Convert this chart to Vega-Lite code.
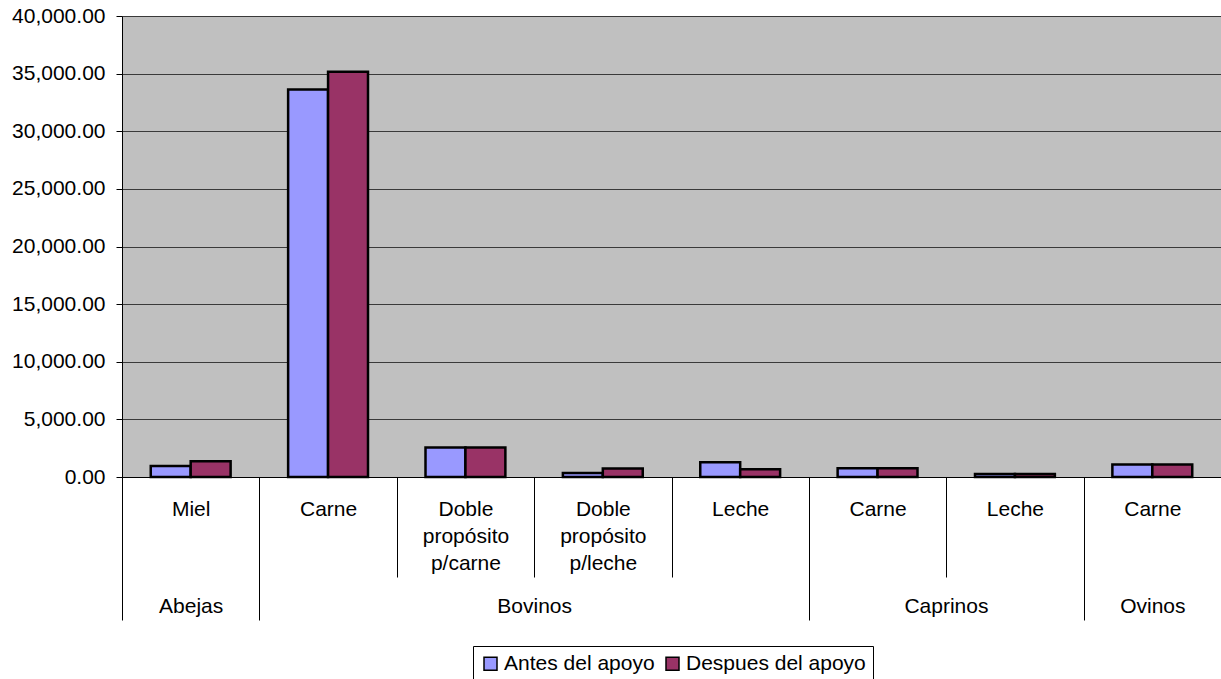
{
  "$schema": "https://vega.github.io/schema/vega-lite/v6.json",
  "width": 1099,
  "height": 461,
  "autosize": {"type": "none"},
  "padding": {"left": 122, "top": 16, "right": 0, "bottom": 202},
  "background": "white",
  "config": {
    "view": {"fill": "#C0C0C0", "stroke": null},
    "font": "Liberation Sans"
  },
  "data": {
    "values": [
      {"clave": "Abejas|Miel", "serie": "Antes del apoyo", "valor": 960},
      {"clave": "Abejas|Miel", "serie": "Despues del apoyo", "valor": 1370},
      {"clave": "Bovinos|Carne", "serie": "Antes del apoyo", "valor": 33630},
      {"clave": "Bovinos|Carne", "serie": "Despues del apoyo", "valor": 35160},
      {"clave": "Bovinos|Doble propósito p/carne", "serie": "Antes del apoyo", "valor": 2550},
      {"clave": "Bovinos|Doble propósito p/carne", "serie": "Despues del apoyo", "valor": 2550},
      {"clave": "Bovinos|Doble propósito p/leche", "serie": "Antes del apoyo", "valor": 350},
      {"clave": "Bovinos|Doble propósito p/leche", "serie": "Despues del apoyo", "valor": 730},
      {"clave": "Bovinos|Leche", "serie": "Antes del apoyo", "valor": 1280},
      {"clave": "Bovinos|Leche", "serie": "Despues del apoyo", "valor": 670},
      {"clave": "Caprinos|Carne", "serie": "Antes del apoyo", "valor": 750},
      {"clave": "Caprinos|Carne", "serie": "Despues del apoyo", "valor": 750},
      {"clave": "Caprinos|Leche", "serie": "Antes del apoyo", "valor": 270},
      {"clave": "Caprinos|Leche", "serie": "Despues del apoyo", "valor": 270},
      {"clave": "Ovinos|Carne", "serie": "Antes del apoyo", "valor": 1080},
      {"clave": "Ovinos|Carne", "serie": "Despues del apoyo", "valor": 1080}
    ]
  },
  "encoding": {
    "y": {
      "field": "valor",
      "type": "quantitative",
      "scale": {"domain": [0, 40000], "nice": false},
      "axis": {
        "title": null,
        "values": [0, 5000, 10000, 15000, 20000, 25000, 30000, 35000, 40000],
        "format": ",.2f",
        "labelFont": "Liberation Sans",
        "labelFontSize": 21,
        "labelColor": "black",
        "labelPadding": 11,
        "tickSize": 6,
        "tickColor": "black",
        "domainColor": "black",
        "domainWidth": 1,
        "grid": true,
        "gridColor": "#3a3a3a",
        "gridWidth": 1
      }
    },
    "xOffset": {
      "field": "serie",
      "type": "nominal",
      "scale": {
        "domain": ["Antes del apoyo", "Despues del apoyo"],
        "paddingInner": 0,
        "paddingOuter": 0.72
      }
    },
    "color": {
      "field": "serie",
      "type": "nominal",
      "scale": {
        "domain": ["Antes del apoyo", "Despues del apoyo"],
        "range": ["#9999FF", "#993366"]
      },
      "legend": {
        "title": null,
        "orient": "none",
        "legendX": 351,
        "legendY": 630,
        "direction": "horizontal",
        "strokeColor": "black",
        "fillColor": "white",
        "padding": 7,
        "symbolType": "square",
        "symbolSize": 169,
        "symbolStrokeColor": "black",
        "symbolStrokeWidth": 1.5,
        "symbolOpacity": 1,
        "labelFont": "Liberation Sans",
        "labelFontSize": 21,
        "labelColor": "black",
        "labelLimit": 0,
        "labelOffset": 3,
        "columnPadding": 7
      }
    }
  },
  "layer": [
    {
      "transform": [{"filter": "datum.serie === 'Antes del apoyo'"}],
      "mark": {"type": "bar", "stroke": "black", "strokeWidth": 2.5},
      "encoding": {
        "x": {
          "field": "clave",
          "type": "nominal",
          "sort": null,
          "scale": {"paddingInner": 0, "paddingOuter": 0},
          "axis": {
            "title": null,
            "orient": "bottom",
            "labelExpr": "isString(datum.value) ? split(split(datum.value, '|')[1], ' ') : ''",
            "labelAngle": 0,
            "labelFont": "Liberation Sans",
            "labelFontSize": 21,
            "labelColor": "black",
            "labelBaseline": "top",
            "labelLineHeight": 27,
            "labelPadding": -79,
            "tickBand": "extent",
            "tickSize": 100,
            "tickColor": "black",
            "tickWidth": 1,
            "domainColor": "black",
            "domainWidth": 1,
            "grid": false
          }
        }
      }
    },
    {
      "transform": [{"filter": "datum.serie === 'Despues del apoyo'"}],
      "mark": {"type": "bar", "stroke": "black", "strokeWidth": 2.5},
      "encoding": {
        "x": {
          "field": "clave",
          "type": "nominal",
          "sort": null,
          "scale": {"paddingInner": 0, "paddingOuter": 0},
          "axis": {
            "title": null,
            "orient": "bottom",
            "values": ["Abejas|Miel", "Bovinos|Leche", "Caprinos|Leche", "Ovinos|Carne"],
            "labelExpr": "isString(datum.value) ? split(datum.value, '|')[0] : ''",
            "labelAngle": 0,
            "labelFont": "Liberation Sans",
            "labelFontSize": 21,
            "labelColor": "black",
            "labelBaseline": "top",
            "labelPadding": -25,
            "labelOffset": {
              "condition": [
                {"test": "datum.value === 'Bovinos|Leche'", "value": -206},
                {"test": "datum.value === 'Caprinos|Leche'", "value": -69}
              ],
              "value": 0
            },
            "tickBand": "extent",
            "tickSize": 143,
            "tickColor": "black",
            "tickWidth": 1,
            "domain": false,
            "grid": false
          }
        }
      }
    }
  ],
  "resolve": {"axis": {"x": "independent"}}
}
